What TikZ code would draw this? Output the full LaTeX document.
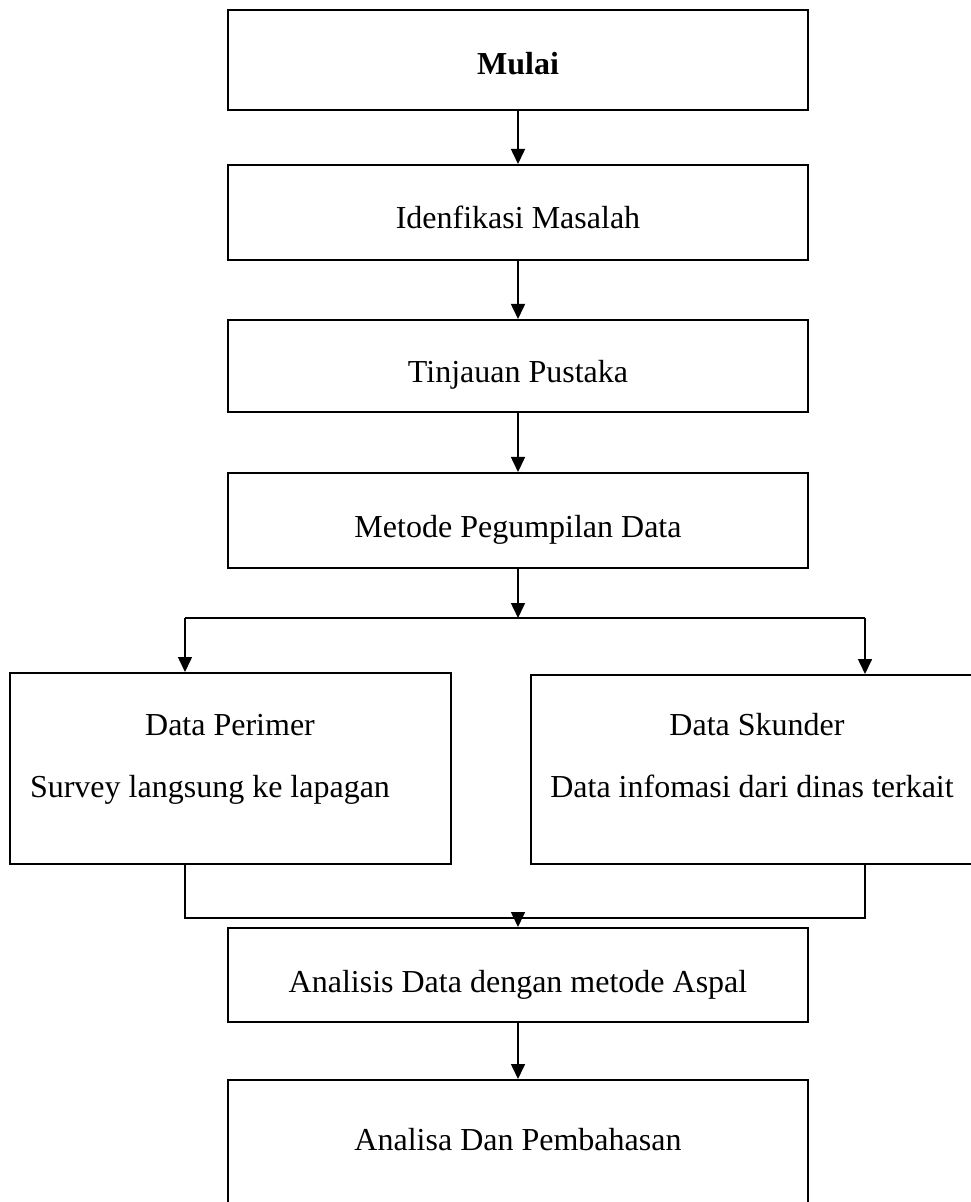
\documentclass[tikz,border=0pt]{standalone}
\usepackage{fontspec}
\setmainfont{Liberation Serif}
\usepackage{tikz}
\usetikzlibrary{positioning}
\usetikzlibrary{arrows.meta}

\tikzset{
	box/.style={draw, line width=1pt, inner sep=0pt},
	txt/.style={anchor=base, inner sep=0pt, font=\fontsize{16}{19}\selectfont},
	arr/.style={-{Triangle[length=7.5pt,width=7pt]}, line width=0.8pt},
	ln/.style={line width=0.8pt}
}

\begin{document}
\begin{tikzpicture}[x=0.5pt, y=-0.5pt]
	\useasboundingbox (0,0) rectangle (970,1202);
	% kotak utama
	\node[box, minimum width=290pt, minimum height=50pt] (mulai) at (518,60) {};
	\node[box, minimum width=290pt, minimum height=47.5pt] (idenf) at (518,212.5) {};
	\node[box, minimum width=290pt, minimum height=46pt] (tinjau) at (518,366) {};
	\node[box, minimum width=290pt, minimum height=47.5pt] (metode) at (518,520.5) {};
	\node[box, minimum width=220.5pt, minimum height=95.5pt] (perimer) at (230.5,768.5) {};
	\node[box, minimum width=222pt, minimum height=94.5pt] (skunder) at (753,769.5) {};
	\node[box, minimum width=290pt, minimum height=47pt] (analisis) at (518,975) {};
	\node[box, minimum width=290pt, minimum height=67.5pt] (analisa) at (518,1147.5) {};
	% teks
	\node[txt, font=\fontsize{16}{19}\selectfont\bfseries] (tmulai) at (518,75) {Mulai};
	\node[txt] (tidenf) at (518,229) {Idenfikasi Masalah};
	\node[txt] (ttinjau) at (518,383) {Tinjauan Pustaka};
	\node[txt] (tmetode) at (518,537) {Metode Pegumpilan Data};
	\node[txt] (tperimer) at (230,735) {Data Perimer};
	\node[txt] (tsurvey) at (210,797) {Survey langsung ke lapagan};
	\node[txt] (tskunder) at (757,735) {Data Skunder};
	\node[txt] (tinfo) at (752,797) {Data infomasi dari dinas terkait};
	\node[txt] (tanalisis) at (518,992) {Analisis Data dengan metode Aspal};
	\node[txt] (tanalisa) at (518,1150) {Analisa Dan Pembahasan};
	% titik cabang
	\coordinate (split) at (518,618);
	\coordinate (splitL) at (185,618);
	\coordinate (splitR) at (865,618);
	\coordinate (join) at (518,918);
	\coordinate (joinL) at (185,918);
	\coordinate (joinR) at (865,918);
	% panah
	\draw[arr] (mulai) -- (idenf);
	\draw[arr] (idenf) -- (tinjau);
	\draw[arr] (tinjau) -- (metode);
	\draw[arr] (metode) -- (split);
	\draw[ln] (splitL) -- (splitR);
	\draw[arr] (splitL) -- (splitL |- perimer.north);
	\draw[arr] (splitR) -- (splitR |- skunder.north);
	\draw[ln] (perimer.south -| joinL) -- (joinL) -- (joinR) -- (skunder.south -| joinR);
	\draw[arr] (join) -- (analisis);
	\draw[arr] (analisis) -- (analisa);
\end{tikzpicture}
\end{document}
